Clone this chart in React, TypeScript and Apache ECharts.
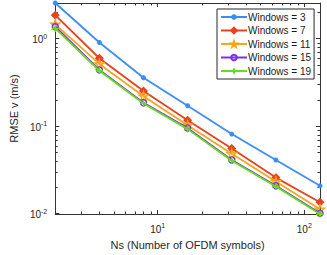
import React, { useEffect, useRef } from "react";
import * as echarts from "echarts";

const ns = [2, 4, 8, 16, 32, 64, 128];
const seriesNames = ["Windows = 3", "Windows = 7", "Windows = 11", "Windows = 15", "Windows = 19"];
const w3 = [2.56, 0.905, 0.358, 0.171, 0.0812, 0.041, 0.0208];
const w7 = [1.86, 0.598, 0.253, 0.117, 0.0554, 0.0258, 0.0135];
const w11 = [1.46, 0.515, 0.22, 0.1026, 0.0483, 0.0233, 0.0112];
const w15 = [1.37, 0.44, 0.185, 0.095, 0.041, 0.0208, 0.0101];
const w19 = [1.31, 0.43, 0.182, 0.0925, 0.0403, 0.0204, 0.0099];
const xMinorTicks = [3, 4, 5, 6, 7, 8, 9, 20, 30, 40, 50, 60, 70, 80, 90];
const yMinorTicks = [0.02, 0.03, 0.04, 0.05, 0.06, 0.07, 0.08, 0.09, 0.2, 0.3, 0.4, 0.5, 0.6, 0.7, 0.8, 0.9, 2];
const xMin = 2, xMax = 128, yMin = 0.0099, yMax = 2.56;

const colors = ["#3d8ef2", "#e8421c", "#f5a51e", "#7a30ee", "#66dc1c"];
const STAR = "path://M0,-10 L2.35,-3.24 L9.51,-3.09 L3.8,1.24 L5.88,8.09 L0,4 L-5.88,8.09 L-3.8,1.24 L-9.51,-3.09 L-2.35,-3.24 Z";
const PLUS = "path://M-5,0 L5,0 M0,-5 L0,5";
const FONT = "'Liberation Sans', Arial, Helvetica, sans-serif";
const AX = "#333333";

function powLabel(v: number) {
  const l = Math.log10(v);
  const e = Math.round(l);
  if (Math.abs(l - e) > 1e-6) return "";
  return `{b|10}{s|${e}}`;
}
const rich = {
  b: { fontSize: 10, lineHeight: 12, verticalAlign: "bottom", padding: [2, 0, 0, 0], color: "#262626", fontFamily: FONT },
  s: { fontSize: 7, lineHeight: 7, verticalAlign: "top", color: "#262626", fontFamily: FONT },
};

export default function App() {
  const ref = useRef<HTMLDivElement>(null);
  useEffect(() => {
    const chart = echarts.init(ref.current!, null, { renderer: "svg" });
    const vals = [w3, w7, w11, w15, w19];
    const symbols = ["circle", "diamond", STAR, "circle", PLUS];
    const sizes = [5, 7, 9, 6, 7];
    const dataSeries = vals.map((arr, i) => ({
      name: seriesNames[i],
      type: "line",
      xAxisIndex: 0,
      yAxisIndex: 0,
      data: ns.map((x, j) => [x, arr[j]]),
      symbol: symbols[i],
      symbolSize: sizes[i],
      showAllSymbol: true,
      color: colors[i],
      lineStyle: { color: colors[i], width: 1.8, type: "solid" },
      itemStyle:
        i === 0
          ? { color: colors[i] }
          : { color: i === 1 ? colors[i] : "rgba(255,255,255,0)", borderColor: colors[i], borderWidth: 1.4 },
      emphasis: { disabled: true },
      z: 3 + i,
    }));
    const tickLine = (x1: number, y1: number, x2: number, y2: number) => ({
      type: "line",
      shape: { x1, y1, x2, y2 },
      style: { stroke: AX, lineWidth: 1 },
    });
    const xMinorSeries = {
      type: "custom",
      xAxisIndex: 0,
      yAxisIndex: 0,
      silent: true,
      clip: false,
      data: xMinorTicks.map((v) => [v, yMin]),
      renderItem: (params: any, api: any) => {
        const p = api.coord([api.value(0), yMin]);
        const cs = params.coordSys;
        const x = Math.round(p[0]) + 0.5;
        return {
          type: "group",
          children: [
            tickLine(x, cs.y + cs.height, x, cs.y + cs.height - 2.5),
            tickLine(x, cs.y, x, cs.y + 2.5),
          ],
        };
      },
      z: 1,
    };
    const yMinorSeries = {
      type: "custom",
      xAxisIndex: 0,
      yAxisIndex: 0,
      silent: true,
      clip: false,
      data: yMinorTicks.map((v) => [xMin, v]),
      renderItem: (params: any, api: any) => {
        const p = api.coord([xMin, api.value(1)]);
        const cs = params.coordSys;
        const y = Math.round(p[1]) + 0.5;
        return {
          type: "group",
          children: [
            tickLine(cs.x, y, cs.x + 2.5, y),
            tickLine(cs.x + cs.width, y, cs.x + cs.width - 2.5, y),
          ],
        };
      },
      z: 1,
    };
    const baseX = {
      type: "log",
      logBase: 10,
      min: xMin,
      max: xMax,
      splitLine: { show: false },
      axisLine: { show: true, lineStyle: { color: AX, width: 1 } },
      axisTick: { show: true, inside: true, length: 4, lineStyle: { color: AX } },
    };
    const baseY = {
      type: "log",
      logBase: 10,
      min: yMin,
      max: yMax,
      splitLine: { show: false },
      axisLine: { show: true, lineStyle: { color: AX, width: 1 } },
      axisTick: { show: true, inside: true, length: 4, lineStyle: { color: AX } },
    };
    chart.setOption({
      animation: false,
      backgroundColor: "#ffffff",
      textStyle: { fontFamily: FONT },
      grid: { left: 41, top: 3, width: 279, height: 213 },
      legend: {
        data: seriesNames,
        orient: "vertical",
        left: 217,
        top: 9,
        padding: [2, 3, 2, 3],
        itemGap: 1.5,
        itemWidth: 26,
        itemHeight: 7,
        backgroundColor: "#ffffff",
        borderColor: "#262626",
        borderWidth: 1,
        textStyle: { fontSize: 10, lineHeight: 12, color: "#1a1a1a", fontFamily: FONT, padding: [0, 0, 0, -4] },
      },
      xAxis: [
        {
          ...baseX,
          position: "bottom",
          axisLabel: {
            formatter: powLabel,
            rich,
            margin: 8,
            showMinLabel: false,
            showMaxLabel: false,
          },
          name: "Ns (Number of OFDM symbols)",
          nameLocation: "middle",
          nameGap: 25,
          nameTextStyle: { fontSize: 11, color: "#262626", fontFamily: FONT },
        },
        { ...baseX, position: "top", axisLabel: { show: false } },
      ],
      yAxis: [
        {
          ...baseY,
          position: "left",
          axisLabel: {
            formatter: powLabel,
            rich,
            margin: 8,
            showMinLabel: true,
            showMaxLabel: false,
          },
          name: "RMSE v (m/s)",
          nameLocation: "middle",
          nameGap: 29,
          nameTextStyle: { fontSize: 11, color: "#262626", fontFamily: FONT },
        },
        { ...baseY, position: "right", axisLabel: { show: false } },
      ],
      series: [xMinorSeries, yMinorSeries, ...dataSeries],
    });
    return () => chart.dispose();
  }, []);
  return <div ref={ref} style={{ position: "fixed", left: 0, top: 0, width: 327, height: 255 }} />;
}
